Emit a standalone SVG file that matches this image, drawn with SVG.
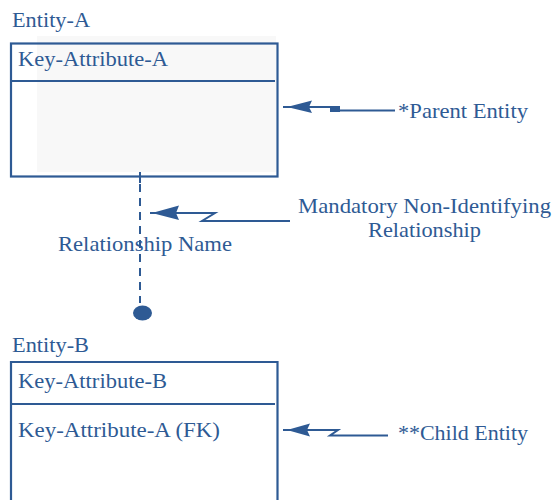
<svg xmlns="http://www.w3.org/2000/svg" width="554" height="500" viewBox="0 0 554 500">
<defs>
<style>
.t{font-size:22px;fill:#2e5a94}
.box{fill:none;stroke:#2e5a94;stroke-width:2.2}
.ln{fill:none;stroke:#2e5a94;stroke-width:2}
.head{fill:#2e5a94;stroke:none}
</style>
</defs>
<rect width="554" height="500" fill="#ffffff"/>
<g font-family="Liberation Serif, DejaVu Serif, serif">
<g id="entity-a">
<text class="t" x="12" y="27" textLength="78" lengthAdjust="spacingAndGlyphs">Entity-A</text>
<rect x="37" y="36" width="239" height="136" fill="#f8f8f8"/>
<rect class="box" x="11" y="43.5" width="266.5" height="133"/>
<line class="ln" x1="11" y1="81" x2="275" y2="81"/>
<text class="t" x="18" y="66" textLength="150" lengthAdjust="spacingAndGlyphs">Key-Attribute-A</text>
</g>
<g id="entity-b">
<text class="t" x="12" y="352" textLength="77" lengthAdjust="spacingAndGlyphs">Entity-B</text>
<path class="box" d="M11,502 V362 H277.5 V502"/>
<line class="ln" x1="11" y1="404" x2="275" y2="404"/>
<text class="t" x="18" y="388" textLength="149" lengthAdjust="spacingAndGlyphs">Key-Attribute-B</text>
<text class="t" x="18" y="437" textLength="202" lengthAdjust="spacingAndGlyphs">Key-Attribute-A (FK)</text>
</g>
<g id="labels">
<text class="t" x="398" y="118" textLength="130" lengthAdjust="spacingAndGlyphs">*Parent Entity</text>
<text class="t" x="298" y="213" textLength="253" lengthAdjust="spacingAndGlyphs">Mandatory Non-Identifying</text>
<text class="t" x="368" y="237" textLength="113" lengthAdjust="spacingAndGlyphs">Relationship</text>
<text class="t" x="58" y="251" textLength="174" lengthAdjust="spacingAndGlyphs">Relationship Name</text>
<text class="t" x="398" y="440" textLength="130" lengthAdjust="spacingAndGlyphs">**Child Entity</text>
</g>
</g>
<g id="connectors">
<line class="ln" x1="140" y1="172" x2="140" y2="183"/>
<line class="ln" x1="140" y1="184" x2="140" y2="303" stroke-dasharray="8,6" stroke-width="2.4"/>
<ellipse class="head" cx="142.5" cy="313" rx="9.5" ry="7.5"/>
<path class="ln" d="M150,213 H215 L202,221 H290"/>
<path class="head" d="M152,213 L179,205.5 L176,213 L179,220 Z"/>
<path class="ln" d="M283,107 H340 M330,110.5 H395"/>
<path class="head" d="M287,107 L312,100.5 L309,107 L312,113 Z"/>
<rect class="head" x="330" y="106.5" width="10" height="5.5"/>
<path class="ln" d="M283,430 H338 L330,435.5 H388"/>
<path class="head" d="M287,430 L310,423.5 L307,430 L310,436.5 Z"/>
</g>
</svg>
